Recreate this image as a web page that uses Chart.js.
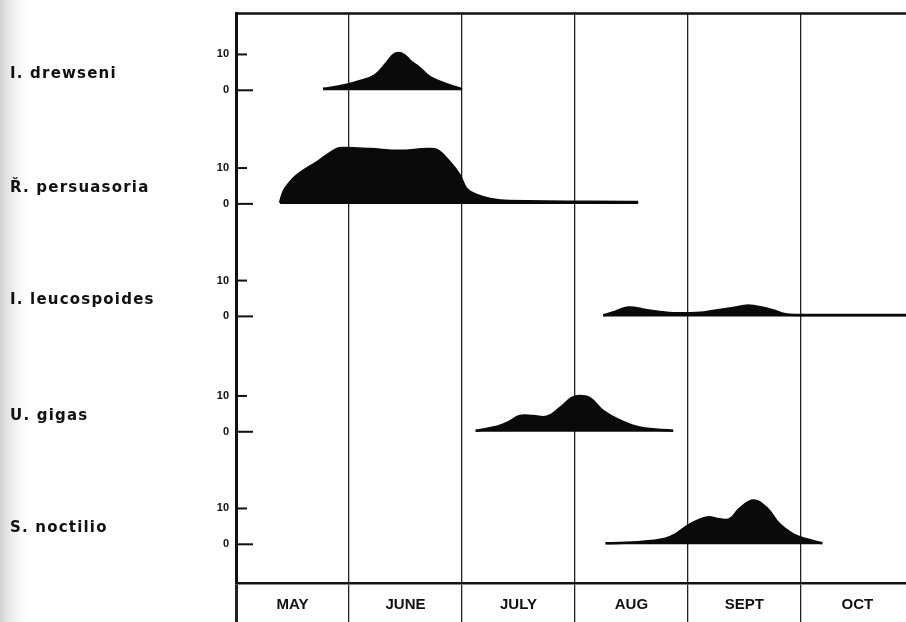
<!DOCTYPE html>
<html>
<head>
<meta charset="utf-8">
<script src="https://cdn.jsdelivr.net/npm/chart.js@4"></script>
<style>
  body { margin: 0; background: #fff; }
  canvas { display: block; }
</style>
</head>
<body>
<canvas id="myChart" width="906" height="622"></canvas>
<script>
// months along the bottom, x measured in months from 1 May
var months = ["MAY", "JUNE", "JULY", "AUG", "SEPT", "OCT"];
var species = ["I. drewseni", "Ř. persuasoria", "I. leucospoides", "U. gigas", "S. noctilio"];
var yTickLabels = ["0", "10"];

// numbers caught
var drewseniX = [0.77, 0.96, 1.10, 1.23, 1.33, 1.39, 1.44, 1.49, 1.55, 1.62, 1.72, 1.89, 2.0];
var drewseniN = [0.4, 1.4, 2.6, 4.2, 7.5, 9.8, 10.4, 9.8, 8, 6.4, 3.6, 1.4, 0.3];

var persuasoriaX = [0.39, 0.41, 0.44, 0.54, 0.72, 0.89, 0.96, 1.19, 1.45, 1.69, 1.78, 1.89, 1.98, 2.04, 2.13, 2.25, 2.42, 3.56];
var persuasoriaN = [0.3, 2.5, 4.5, 8, 11.7, 15.3, 15.6, 15.3, 14.8, 15.3, 15, 11.7, 8, 4.2, 2.5, 1.4, 0.8, 0.5];

var leucospoidesX = [3.25, 3.33, 3.47, 3.64, 3.87, 4.11, 4.22, 4.37, 4.55, 4.75, 4.86, 4.99, 5.93];
var leucospoidesN = [0.3, 1, 2.5, 1.7, 0.9, 1, 1.5, 2.2, 3, 1.7, 0.6, 0.4, 0.4];

var gigasX = [2.12, 2.31, 2.42, 2.51, 2.63, 2.75, 2.87, 2.97, 3.04, 3.13, 3.25, 3.40, 3.58, 3.87];
var gigasN = [0.3, 1.4, 2.8, 4.4, 4.4, 4.2, 6.7, 9.4, 10, 9.4, 5.8, 3.1, 1.1, 0.3];

var noctilioX = [3.27, 3.60, 3.84, 4.02, 4.17, 4.28, 4.37, 4.46, 4.58, 4.70, 4.81, 4.93, 5.05, 5.19];
var noctilioN = [0.3, 0.7, 2, 5.6, 7.5, 7, 7, 10, 12.2, 10, 5.6, 2.8, 1.4, 0.3];

var seriesX = [drewseniX, persuasoriaX, leucospoidesX, gigasX, noctilioX];
var seriesN = [drewseniN, persuasoriaN, leucospoidesN, gigasN, noctilioN];

// where each row's zero sits on the shared y scale
var rowBase = [137.5, 105.8, 74.4, 42.2, 10.8];

var datasets = seriesX.map(function (xs, i) {
  return {
    label: species[i],
    data: xs.map(function (x, j) { return { x: x, y: rowBase[i] + seriesN[i][j] }; }),
    fill: { value: rowBase[i] },
    backgroundColor: "#0a0a0a",
    borderColor: "#0a0a0a",
    borderWidth: 2.5,
    pointRadius: 0,
    tension: 0.4
  };
});

var decor = {
  id: "decor",
  beforeDraw: function (chart) {
    var ctx = chart.ctx;
    var g = ctx.createLinearGradient(0, 0, 32, 0);
    g.addColorStop(0, "rgba(170,170,170,0.55)");
    g.addColorStop(1, "rgba(255,255,255,0)");
    ctx.save();
    ctx.fillStyle = g;
    ctx.fillRect(0, 0, 32, chart.height);
    ctx.restore();
  },
  afterDraw: function (chart) {
    var ctx = chart.ctx, a = chart.chartArea, y = chart.scales.y;
    ctx.save();
    ctx.strokeStyle = "#111";
    ctx.lineWidth = 2.5;
    ctx.beginPath();
    ctx.moveTo(a.left - 1, a.top);
    ctx.lineTo(a.right, a.top);
    ctx.stroke();

    ctx.lineWidth = 2;
    y.ticks.forEach(function (t) {
      var py = y.getPixelForValue(t.value);
      var len = t.label === "0" ? 17 : 11;
      ctx.beginPath();
      ctx.moveTo(a.left, py);
      ctx.lineTo(a.left + len, py);
      ctx.stroke();
    });

    ctx.fillStyle = "#111";
    ctx.font = "bold 15px 'DejaVu Sans', sans-serif";
    ctx.letterSpacing = "1.2px";
    ctx.textBaseline = "middle";
    rowBase.forEach(function (b, i) {
      ctx.fillText(species[i], 10, y.getPixelForValue(b) - 16);
    });
    ctx.restore();
  }
};

var ctx = document.getElementById("myChart");

var myChart = new Chart(ctx, {
  type: "line",
  data: { datasets: datasets },
  plugins: [decor],
  options: {
    responsive: false,
    animation: false,
    layout: { padding: { top: 11, left: 0, right: 0, bottom: 0 } },
    plugins: {
      legend: { display: false },
      tooltip: { enabled: false }
    },
    scales: {
      x: {
        type: "linear",
        min: 0,
        max: 5.93,
        afterBuildTicks: function (scale) {
          scale.ticks = months.map(function (m, i) { return { value: i }; });
        },
        afterFit: function (scale) { scale.height = 39; },
        grid: {
          color: "#222",
          lineWidth: function (c) { return c.tick && c.tick.value === 0 ? 3 : 1.3; },
          tickLength: 39
        },
        border: { display: true, color: "#111", width: 2.5 },
        ticks: {
          autoSkip: false,
          maxRotation: 0,
          labelOffset: 56.5,
          padding: -26,
          color: "#111",
          font: { family: "'Liberation Sans', Arial, sans-serif", size: 15, weight: "bold" },
          callback: function (v, i) { return months[i]; }
        }
      },
      y: {
        type: "linear",
        min: 0,
        max: 158.9,
        afterBuildTicks: function (scale) {
          var t = [];
          rowBase.forEach(function (b) {
            t.push({ value: b });
            t.push({ value: b + 10 });
          });
          scale.ticks = t;
        },
        afterFit: function (scale) { scale.width = 236; },
        grid: { display: false, drawTicks: false },
        border: { display: true, color: "#111", width: 3 },
        ticks: {
          autoSkip: false,
          padding: 7,
          color: "#111",
          font: { family: "'Liberation Sans', Arial, sans-serif", size: 11, weight: "bold" },
          callback: function (v) {
            return rowBase.indexOf(v) >= 0 ? yTickLabels[0] : yTickLabels[1];
          }
        }
      }
    }
  }
});
</script>
</body>
</html>
